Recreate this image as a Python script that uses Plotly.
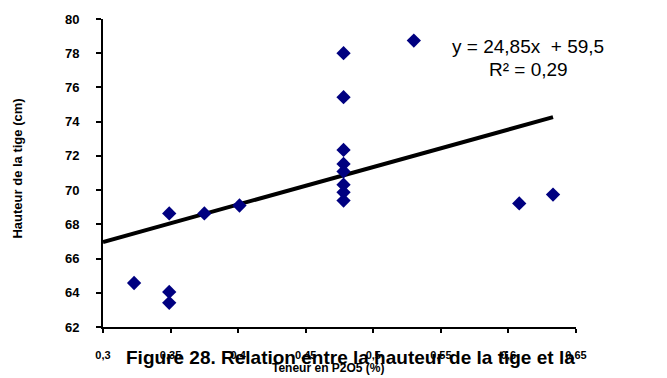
import plotly.graph_objects as go
import numpy as np

# Data
teneur_p2o5 = [0.323, 0.349, 0.349, 0.349, 0.375, 0.401,
               0.478, 0.478, 0.478, 0.478, 0.478, 0.478, 0.478, 0.478,
               0.530, 0.608, 0.633]
hauteur_tige = [64.57, 68.64, 64.05, 63.41, 68.64, 69.10,
                78.0, 75.43, 72.35, 71.53, 71.09, 70.32, 69.87, 69.39,
                78.74, 69.22, 69.74]

# Trend line as drawn in the picture
trend_slope = 21.9
trend_intercept = 60.4
trend_x = [0.3, max(teneur_p2o5)]
trend_y = [trend_slope * v + trend_intercept for v in trend_x]

x_ticks = [0.3, 0.35, 0.4, 0.45, 0.5, 0.55, 0.6, 0.65]
y_ticks = [62, 64, 66, 68, 70, 72, 74, 76, 78, 80]

equation_text = "y = 24,85x  + 59,5"
r2_text = "R² = 0,29"
caption_text = "Figure 28. Relation entre la hauteur de la tige et la"
x_title = "Teneur en P2O5 (%)"
y_title = "Hauteur de la tige (cm)"

FONT = "Liberation Sans, Arial, sans-serif"

fig = go.Figure()
fig.add_trace(go.Scatter(
    x=trend_x, y=trend_y, mode="lines",
    line=dict(color="black", width=4),
    hoverinfo="skip", showlegend=False))
fig.add_trace(go.Scatter(
    x=teneur_p2o5, y=hauteur_tige, mode="markers",
    marker=dict(symbol="diamond", size=11, color="#000080",
                line=dict(width=0)),
    showlegend=False))

L, R, T, B = 103, 576, 16, 327
W, H = R - L, B - T

def px(x):
    return (x - L) / W

def py(y):
    return (B - y) / H

annotations = [
    dict(text=equation_text, x=px(528), y=py(44), xref="paper", yref="paper",
         xanchor="center", yanchor="middle", showarrow=False,
         font=dict(family=FONT, size=19, color="black")),
    dict(text=r2_text, x=px(528), y=py(67), xref="paper", yref="paper",
         xanchor="center", yanchor="middle", showarrow=False,
         font=dict(family=FONT, size=19, color="black")),
    dict(text="<b>" + x_title + "</b>", x=px(328), y=py(368), xref="paper", yref="paper",
         xanchor="center", yanchor="middle", showarrow=False,
         font=dict(family=FONT, size=12, color="black")),
    dict(text="<b>" + caption_text + "</b>", x=px(350), y=py(358), xref="paper", yref="paper",
         xanchor="center", yanchor="middle", showarrow=False,
         font=dict(family=FONT, size=19, color="black")),
    dict(text="<b>" + y_title + "</b>", x=px(18), y=py(167), xref="paper", yref="paper",
         xanchor="center", yanchor="middle", showarrow=False, textangle=-90,
         font=dict(family=FONT, size=13, color="black")),
]

fig.update_layout(
    width=667, height=378,
    margin=dict(l=L, r=667 - R, t=T, b=378 - B, pad=0),
    paper_bgcolor="white", plot_bgcolor="white",
    separators=", ",
    font=dict(family=FONT, color="black"),
    annotations=annotations,
    xaxis=dict(range=[0.3, 0.65], tickvals=x_ticks, tickformat=".2~f",
               showgrid=False, zeroline=False, showline=True, linecolor="black",
               linewidth=2, ticks="outside", ticklen=4, tickwidth=2, tickcolor="black",
               tickfont=dict(family=FONT, size=11, color="black", weight="bold"),
               ticklabelstandoff=13),
    yaxis=dict(range=[62, 80], tickvals=y_ticks,
               showgrid=False, zeroline=False, showline=True, linecolor="black",
               linewidth=2, ticks="outside", ticklen=5, tickwidth=2, tickcolor="black",
               tickfont=dict(family=FONT, size=13, color="black", weight="bold"),
               ticklabelstandoff=14),
)

fig.write_html("out.html")
